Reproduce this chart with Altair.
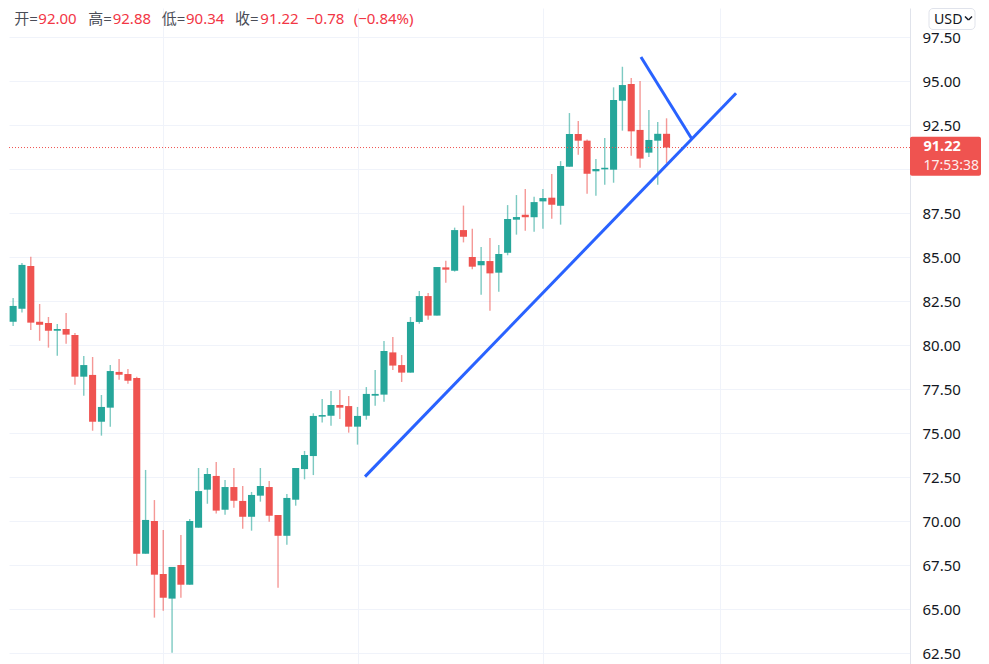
import altair as alt
import pandas as pd
import numpy as np

# ---- OHLC data (one candle per trading day) ----
opens = [79.34, 81.32, 82.06, 84.49, 81.32, 81.25, 80.81, 80.91, 80.57, 78.20,
         78.30, 75.64, 76.44, 78.47, 78.35, 78.12, 68.14, 70.00, 66.99, 65.59,
         67.50, 66.38, 69.62, 71.78, 72.56, 70.64, 71.93, 71.14, 70.24, 71.44,
         71.93, 70.34, 69.16, 71.21, 72.95, 73.69, 75.93, 75.98, 76.59, 76.53,
         75.36, 75.98, 77.12, 77.18, 79.58, 78.86, 78.43, 81.31, 82.78, 81.67,
         84.41, 84.22, 86.53, 85.00, 84.53, 84.77, 84.11, 85.24, 87.12, 87.40,
         87.26, 88.16, 88.37, 87.91, 90.13, 91.99, 91.61, 89.87, 89.98, 89.96,
         93.88, 94.83, 92.22, 90.93, 91.61, 92.00]
highs = [81.82, 82.67, 84.66, 85.02, 82.33, 81.59, 81.19, 81.82, 80.68, 79.37,
         79.32, 77.16, 78.86, 79.20, 78.64, 78.20, 72.90, 71.19, 69.49, 67.39,
         69.20, 70.11, 73.01, 73.01, 73.35, 72.33, 73.01, 71.99, 71.65, 73.01,
         72.27, 70.34, 71.53, 73.01, 73.98, 76.12, 76.93, 77.39, 77.44, 77.10,
         76.48, 77.61, 78.58, 80.23, 80.45, 79.43, 81.59, 83.07, 82.95, 84.43,
         84.79, 86.67, 87.92, 86.60, 85.57, 86.08, 85.68, 87.95, 88.52, 88.86,
         88.43, 88.86, 89.72, 90.45, 93.18, 92.73, 91.67, 90.57, 91.76, 94.64,
         95.81, 95.17, 95.00, 93.35, 92.67, 92.88]
lows = [79.00, 81.08, 81.84, 80.85, 80.24, 79.85, 79.39, 80.07, 77.74, 77.12,
        75.13, 74.85, 75.36, 78.03, 77.80, 67.46, 68.14, 64.51, 64.90, 62.52,
        65.64, 66.38, 69.62, 70.98, 70.42, 70.36, 70.76, 69.56, 69.45, 71.10,
        69.96, 66.21, 68.65, 70.87, 72.37, 72.61, 75.59, 75.41, 75.80, 75.02,
        74.34, 75.76, 76.55, 76.78, 78.58, 77.90, 78.43, 81.21, 81.44, 81.67,
        83.54, 84.17, 85.83, 84.30, 82.86, 81.95, 83.03, 85.10, 86.27, 86.49,
        86.44, 86.61, 87.18, 86.84, 90.13, 90.81, 88.60, 88.48, 89.11, 89.22,
        92.18, 90.76, 90.07, 90.68, 89.11, 90.34]
closes = [81.36, 82.22, 84.55, 81.27, 81.15, 80.81, 80.91, 80.59, 78.20, 78.86,
          75.64, 76.48, 78.52, 78.31, 77.97, 68.14, 70.06, 66.95, 65.64, 67.39,
          66.38, 70.00, 71.70, 72.67, 70.59, 71.93, 71.15, 70.24, 71.48, 71.99,
          70.30, 69.16, 71.31, 73.01, 73.75, 75.97, 76.02, 76.59, 76.44, 75.36,
          75.97, 77.22, 77.22, 79.66, 78.83, 78.43, 81.31, 82.78, 81.67, 84.43,
          84.28, 86.53, 86.15, 84.45, 84.77, 84.07, 85.17, 87.16, 87.27, 87.26,
          88.12, 88.35, 87.97, 90.17, 91.99, 91.61, 89.73, 90.00, 90.07, 93.92,
          94.77, 92.14, 90.59, 91.65, 92.00, 91.22]

month_starts = [18, 40, 61, 81]
y_ticks = [62.5, 65.0, 67.5, 70.0, 72.5, 75.0, 77.5, 80.0, 82.5, 85.0,
           87.5, 90.0, 92.5, 95.0, 97.5]
hidden_tick = 90.0  # covered by the last-price tag in the reference

# hand-drawn trend lines (candle index, price)
trend_x1 = [40.85, 72.10]
trend_y1 = [72.52, 96.36]
trend_x2 = [82.87, 77.85]
trend_y2 = [94.30, 91.72]

header_labels = ["开=", "高=", "低=", "收="]
header_values = ["92.00", "92.88", "90.34", "91.22"]
change_text = "−0.78"
pct_text = "(−0.84%)"
clock_text = "17:53:38"
currency = "USD"

# ---- build tables ----
n = len(opens)
df = pd.DataFrame({"i": np.arange(n), "open": opens, "high": highs,
                   "low": lows, "close": closes})
df["dir"] = np.where(df["close"] >= df["open"], "up", "down")
df["top"] = df[["open", "close"]].max(axis=1)
df["bot"] = df[["open", "close"]].min(axis=1)
last = df.tail(1)
trend = pd.DataFrame({"x1": trend_x1, "y1": trend_y1, "x2": trend_x2, "y2": trend_y2})

UP, DOWN = "#26a69a", "#ef5350"
GRID = "#f0f3fa"
xs = alt.Scale(domain=[0.532, 102.57], nice=False, zero=False)
ys = alt.Scale(domain=[61.875, 99.148], nice=False, zero=False)
cs = alt.Scale(domain=["up", "down"], range=[UP, DOWN])
W, H = 901, 656
FONT = "Noto Sans, Noto Sans CJK SC, sans-serif"

x_axis = alt.Axis(values=month_starts, grid=True, gridColor=GRID, gridWidth=1,
                  labels=False, ticks=False, domain=False, title=None)
y_axis = alt.Axis(orient="right", values=y_ticks, format=".2f", grid=True,
                  gridColor=GRID, ticks=False, tickSize=0, labelPadding=12,
                  labelFontSize=15, labelFont=FONT, labelColor="#131722",
                  labelExpr=f"datum.value == {hidden_tick} ? '' : datum.label",
                  domain=True, domainColor="#e0e3eb", title=None,
                  labelFlush=False, labelOverlap=False, labelBound=False,
                  labelAlign="left")

base = alt.Chart(df)

wicks = base.mark_rule(strokeWidth=1.4, opacity=0.6, clip=True).encode(
    x=alt.X("i:Q", scale=xs, axis=x_axis),
    y=alt.Y("low:Q", scale=ys, axis=y_axis),
    y2="high:Q",
    color=alt.Color("dir:N", scale=cs, legend=None),
)

bodies = base.transform_calculate(
    x0="datum.i - 0.4", x1="datum.i + 0.4"
).mark_rect(clip=True).encode(
    x=alt.X("x0:Q", scale=xs, axis=x_axis),
    x2="x1:Q",
    y=alt.Y("top:Q", scale=ys, axis=y_axis),
    y2="bot:Q",
    color=alt.Color("dir:N", scale=cs, legend=None),
)

price_line = alt.Chart(last).mark_rule(color=DOWN, strokeDash=[1, 2], strokeWidth=1).encode(
    y=alt.Y("close:Q", scale=ys, axis=y_axis),
    x=alt.value(0), x2=alt.value(W),
)

trend_lines = alt.Chart(trend).mark_rule(color="#2962ff", strokeWidth=3, clip=True).encode(
    x=alt.X("x1:Q", scale=xs, axis=x_axis),
    y=alt.Y("y1:Q", scale=ys, axis=y_axis),
    x2="x2:Q", y2="y2:Q",
)


def txt(s, x, y, color, size=15.0, weight="normal", opacity=1.0, baseline="alphabetic"):
    return alt.Chart(pd.DataFrame({"t": [s]})).mark_text(
        align="left", baseline=baseline, fontSize=size, font=FONT,
        color=color, fontWeight=weight, opacity=opacity,
    ).encode(x=alt.value(x), y=alt.value(y), text="t:N")


LABEL_C = "#4a4d57"
VAL_C = "#f23645"
hy = 16.4  # baseline
label_x = [5.3, 79.3, 152.7, 226.0]
value_x = [29.3, 103.7, 177.0, 251.3]
header = []
for lab, val, lx, vx in zip(header_labels, header_values, label_x, value_x):
    header.append(txt(lab, lx, hy, LABEL_C))
    header.append(txt(val, vx, hy, VAL_C))
header.append(txt(change_text, 297.0, hy, VAL_C))
header.append(txt(pct_text, 344.7, hy, VAL_C))

# last-price tag on the right scale
tag_box = alt.Chart(last).mark_rect(color=DOWN, cornerRadius=2).encode(
    x=alt.value(W), x2=alt.value(972), y=alt.value(128.7), y2=alt.value(167.7)
)
tag_price = alt.Chart(last).transform_calculate(
    t="format(datum.close, '.2f')"
).mark_text(align="left", baseline="middle", fontSize=14.5, font=FONT,
            color="white", fontWeight="bold").encode(
    x=alt.value(914.5), y=alt.value(138.7), text="t:N"
)
tag_clock = txt(clock_text, 914.5, 157.7, "white", size=14, opacity=0.9, baseline="middle")

# currency button
usd_box = alt.Chart(pd.DataFrame({"t": [currency]})).mark_rect(
    fill="white", stroke="#e0e3eb", strokeWidth=1, cornerRadius=4
).encode(x=alt.value(920), x2=alt.value(966), y=alt.value(0.5), y2=alt.value(21.5))
usd_text = txt(currency, 925, 15.6, "#131722", size=14.2)
chev1 = alt.Chart(pd.DataFrame({"t": [0]})).mark_rule(color="#131722", strokeWidth=1.5).encode(
    x=alt.value(956), y=alt.value(8.5), x2=alt.value(959.5), y2=alt.value(12))
chev2 = alt.Chart(pd.DataFrame({"t": [0]})).mark_rule(color="#131722", strokeWidth=1.5).encode(
    x=alt.value(959.5), y=alt.value(12), x2=alt.value(963), y2=alt.value(8.5))

chart = alt.layer(
    wicks, bodies, price_line, trend_lines, *header,
    tag_box, tag_price, tag_clock, usd_box, usd_text, chev1, chev2
).properties(
    width=W, height=H, padding=0, background="white"
).configure_view(strokeWidth=0)

chart.save("out.html", embed_options={"renderer": "svg", "actions": False})
